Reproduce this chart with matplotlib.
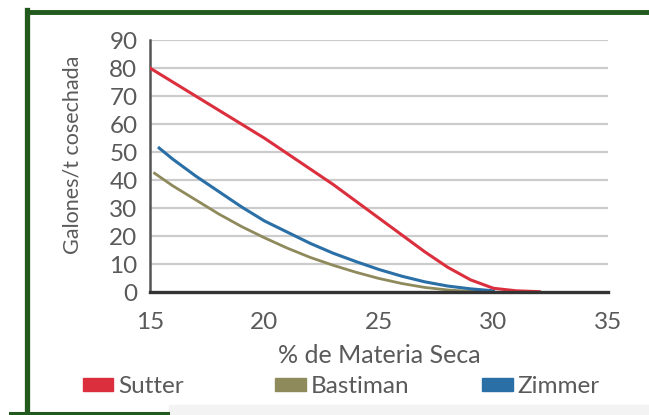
import matplotlib
matplotlib.use("Agg")
import matplotlib.pyplot as plt
from matplotlib.patches import Patch, Rectangle
from matplotlib.lines import Line2D

###############################################################
#                       data
###############################################################
sutter_x = [15, 16, 17, 18, 19, 20, 21, 22, 23, 24, 25, 26, 27, 28, 29, 30, 31, 32]
sutter_y = [80, 75, 70, 65, 60, 55, 49.5, 44, 38.5, 32.5, 26.5, 20.5, 14.5, 9, 4.5, 1.5, 0.6, 0.3]

zimmer_x = [15.4, 16, 17, 18, 19, 20, 21, 22, 23, 24, 25, 26, 27, 28, 29, 30]
zimmer_y = [51.5, 47.5, 41.5, 36, 30.5, 25.5, 21.5, 17.5, 14, 11, 8.2, 5.8, 3.8, 2.3, 1.3, 0.6]

bastiman_x = [15.2, 16, 17, 18, 19, 20, 21, 22, 23, 24, 25, 26, 27, 28, 29, 30]
bastiman_y = [42.5, 38, 33, 28, 23.5, 19.5, 15.8, 12.5, 9.7, 7.2, 5, 3.2, 1.8, 0.9, 0.4, 0.2]

names = ["Sutter", "Bastiman", "Zimmer"]
x_ticks = [15, 20, 25, 30, 35]
y_ticks = [0, 10, 20, 30, 40, 50, 60, 70, 80, 90]

red = "#dc2f3e"
olive = "#8e8a5c"
blue = "#2a6fa6"
txt = "#5a5a5a"
green = "#22591c"

plt.rcParams["font.family"] = ["Lato", "DejaVu Sans"]

###############################################################
#                       plot
###############################################################
fig = plt.figure(figsize=(6.49, 4.15), dpi=100)
ax = fig.add_axes([0.2311, 0.2952, 0.7057, 0.6084])

for v in y_ticks[1:]:
    ax.axhline(v, color="#cccccc", lw=1.6, zorder=1)

ax.plot(bastiman_x, bastiman_y, color=olive, lw=2.0, zorder=3)
ax.plot(zimmer_x, zimmer_y, color=blue, lw=2.2, zorder=4)
ax.plot(sutter_x, sutter_y, color=red, lw=2.2, zorder=5)

ax.set_xlim(15, 35)
ax.set_ylim(0, 90)
ax.set_xticks(x_ticks)
ax.set_yticks(y_ticks)
ax.tick_params(length=0, labelsize=17.5, colors=txt)
ax.tick_params(axis="x", pad=14)
ax.tick_params(axis="y", pad=9)
for s in ["top", "right"]:
    ax.spines[s].set_visible(False)
ax.spines["left"].set_color("#555555")
ax.spines["left"].set_linewidth(1.8)
ax.spines["bottom"].set_color("#333333")
ax.spines["bottom"].set_linewidth(2.4)
ax.spines["bottom"].set_zorder(6)

ax.set_xlabel("% de Materia Seca", fontsize=18, color=txt, labelpad=8)
fig.text(0.111, 0.627, "Galones/t cosechada", rotation=90, fontsize=15.5,
         color=txt, ha="center", va="center")

# legend, one entry at a time so the gaps follow the original
for name, col, xpos in zip(names, [red, olive, blue], [0.128, 0.424, 0.743]):
    lg = fig.legend([Patch(color=col)], [name], frameon=False,
                    loc="center left", bbox_to_anchor=(xpos, 0.068),
                    borderaxespad=0, borderpad=0, fontsize=17.5,
                    handlelength=1.25, handleheight=0.42, handletextpad=0.2,
                    labelcolor=txt)

# frame
fig.add_artist(Rectangle((0.26, 0.0), 0.74, 0.025, transform=fig.transFigure,
                         color="#f3f3f3", zorder=0))
fig.add_artist(Line2D([0.041, 1.0], [0.971, 0.971], color=green, lw=3.5,
                      transform=fig.transFigure))
fig.add_artist(Line2D([0.041, 0.041], [0.975, 0.0], color=green, lw=3.8,
                      transform=fig.transFigure))
fig.add_artist(Line2D([0.015, 0.259], [0.005, 0.005], color=green, lw=2.2,
                      transform=fig.transFigure))

fig.savefig("out.png", dpi=100)
